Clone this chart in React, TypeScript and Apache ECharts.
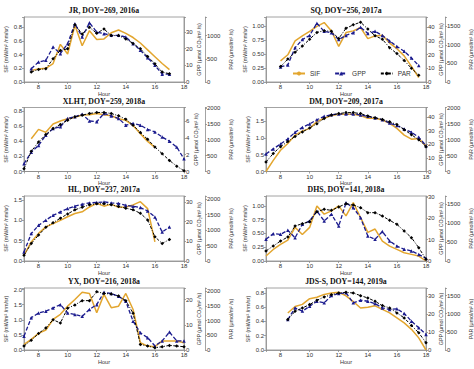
import React, { useEffect, useRef } from 'react';
import * as echarts from 'echarts';

// ---------- hour lists ----------
const H_7_18 = [7, 7.5, 8, 8.5, 9, 9.5, 10, 10.5, 11, 11.5, 12, 12.5, 13, 13.5, 14, 14.5, 15, 15.5, 16, 16.5, 17, 17.5, 18];
const H_75_17 = [7.5, 8, 8.5, 9, 9.5, 10, 10.5, 11, 11.5, 12, 12.5, 13, 13.5, 14, 14.5, 15, 15.5, 16, 16.5, 17];
const H_8_175 = [8, 8.5, 9, 9.5, 10, 10.5, 11, 11.5, 12, 12.5, 13, 13.5, 14, 14.5, 15, 15.5, 16, 16.5, 17, 17.5];
const H_75_16 = [7.5, 8, 8.5, 9, 9.5, 10, 10.5, 11, 11.5, 12, 12.5, 13, 13.5, 14, 14.5, 15, 15.5, 16];
const H_7_16 = [7, 7.5, 8, 8.5, 9, 9.5, 10, 10.5, 11, 11.5, 12, 12.5, 13, 13.5, 14, 14.5, 15, 15.5, 16];
const H_7_17 = [7, 7.5, 8, 8.5, 9, 9.5, 10, 10.5, 11, 11.5, 12, 12.5, 13, 13.5, 14, 14.5, 15, 15.5, 16, 16.5, 17];
const H_85_18 = [8.5, 9, 9.5, 10, 10.5, 11, 11.5, 12, 12.5, 13, 13.5, 14, 14.5, 15, 15.5, 16, 16.5, 17, 17.5, 18];

// ---------- titles ----------
const TITLES = [
  'JR, DOY=269, 2016a', 'SQ, DOY=256, 2017a',
  'XLHT, DOY=259, 2018a', 'DM, DOY=209, 2017a',
  'HL, DOY=237, 2017a', 'DHS, DOY=141, 2018a',
  'YX, DOY=216, 2018a', 'JDS-S, DOY=144, 2019a',
];

// ---------- series values ----------
const jrSIF = [0.17, 0.19, 0.2, 0.27, 0.55, 0.41, 0.83, 0.53, 0.75, 0.62, 0.63, 0.72, 0.76, 0.71, 0.65, 0.57, 0.47, 0.37, 0.27, 0.18];
const jrGPP = [8, 12, 13, 21, 17, 23, 35, 27, 35.5, 30, 29, 28, 28, 27, 23, 19, 14.5, 10, 4.7, 4.7];
const jrPAR = [214, 271, 285, 500, 680, 714, 1235, 1035, 1178, 1050, 1142, 1000, 1000, 928, 830, 714, 550, 393, 214, 178];

const sqSIF = [0.38, 0.49, 0.74, 0.83, 0.91, 1.0, 1.07, 0.92, 0.64, 0.89, 0.92, 0.98, 0.78, 0.83, 0.84, 0.7, 0.6, 0.47, 0.28, 0.08];
const sqGPP = [11, 12.5, 25, 31, 34, 43, 37, 36, 31, 34, 36, 40, 35.5, 37, 34, 30, 26, 22.5, 17.5, 12];
const sqPAR = [414, 617, 801, 967, 1151, 1335, 1381, 1363, 1170, 1446, 1538, 1611, 1427, 1243, 1151, 921, 764, 580, 368, 184];

const xlSIF = [0.435, 0.56, 0.52, 0.63, 0.67, 0.7, 0.72, 0.75, 0.755, 0.77, 0.755, 0.74, 0.7, 0.68, 0.61, 0.5, 0.4, 0.32];
const xlGPP = [0.92, 2.3, 3.1, 4.3, 5.1, 5.3, 6.3, 6.5, 6.8, 6.0, 5.9, 6.9, 6.6, 6.3, 5.5, 5.7, 5.5, 5.0, 4.7, 4.1, 3.6, 2.9, 1.5];
const xlPAR = [85, 640, 936, 1170, 1362, 1490, 1628, 1734, 1787, 1840, 1872, 1872, 1840, 1766, 1660, 1468, 1234, 1021, 777, 564, 351, 170, 21];

const dmSIF = [0.0, 0.33, 0.63, 0.83, 1.08, 1.2, 1.28, 1.48, 1.58, 1.66, 1.7, 1.7, 1.7, 1.66, 1.58, 1.58, 1.53, 1.43, 1.28, 1.08, 0.96, 0.98, 0.76];
const dmGPP = [12.9, 16.6, 20.2, 23.9, 28.8, 32.4, 34.9, 38, 40.5, 41.7, 42.2, 42.2, 42.2, 41.5, 40.5, 39.3, 38, 35.6, 33.7, 31.2, 28.8, 25.1, 19];
const dmPAR = [298, 564, 777, 936, 1096, 1234, 1362, 1490, 1660, 1766, 1809, 1840, 1840, 1809, 1734, 1681, 1628, 1553, 1468, 1308, 1149, 989, 777];

const hlSIF = [0.14, 0.47, 0.68, 0.84, 0.92, 1.0, 1.09, 1.17, 1.21, 1.33, 1.42, 1.35, 1.4, 1.32, 1.33, 1.38, 1.46, 1.29, 0.47];
const hlGPP = [4.6, 13.9, 18.1, 20.7, 23.2, 24.9, 26.6, 27.8, 28.8, 29.5, 29.7, 30, 29.5, 29.2, 28.3, 27.8, 27.1, 25.4, 22.4, 14.7, 17.3];
const hlPAR = [185, 565, 837, 1087, 1239, 1380, 1522, 1652, 1739, 1815, 1848, 1848, 1815, 1761, 1707, 1652, 1543, 1326, 783, 565, 696];

const dhSIF = [0.09, 0.21, 0.3, 0.38, 0.61, 0.48, 0.61, 1.0, 0.85, 0.91, 1.0, 0.82, 1.06, 0.79, 0.52, 0.58, 0.36, 0.27, 0.21, 0.15, 0.12, 0.09, 0.0];
const dhGPP = [10.2, 12.8, 12.5, 14.4, 10.9, 17.2, 18.8, 23.4, 18.8, 21.9, 16.4, 27.3, 25, 20.3, 11.7, 10.2, 13.8, 9.4, 7, 5.5, 4.7, 3.1, 1.2];
const dhPAR = [265, 397, 529, 635, 926, 988, 1041, 1305, 1367, 1341, 1429, 1517, 1482, 1411, 1279, 1279, 1191, 1076, 970, 794, 617, 353, 44];

const yxSIF = [0.19, 0.35, 0.55, 0.66, 1.01, 1.18, 1.45, 1.67, 1.91, 1.87, 1.23, 1.84, 1.4, 1.45, 1.87, 1.34, 0.24, 0.13, 0.11, 0.3, 0.3, 0.3, 0.24];
const yxGPP = [5.5, 12.8, 14.7, 15.4, 16.7, 18, 14.7, 14.1, 13.4, 16.1, 18, 22.9, 22.4, 21.3, 19.3, 11.4, 6.8, 4.9, 1.6, 3.6, 7.1, 3.6, 3.6];
const yxPAR = [134, 336, 560, 750, 1030, 918, 1422, 1534, 1680, 1680, 1982, 1926, 1904, 1837, 1680, 1254, 190, 134, 78, 112, 157, 134, 112];

const jdSIF = [0.52, 0.61, 0.64, 0.72, 0.74, 0.78, 0.8, 0.81, 0.76, 0.68, 0.59, 0.6, 0.62, 0.57, 0.52, 0.45, 0.38, 0.29, 0.17, 0.0];
const jdGPP = [17, 23.5, 21.7, 24.4, 27.2, 26.3, 30.4, 31.5, 31.9, 26.3, 27.8, 27.2, 25.9, 23.5, 22.6, 23, 20.4, 16.1, 12.4, 8.7];
const jdPAR = [840, 1069, 1160, 1252, 1371, 1462, 1526, 1572, 1590, 1572, 1499, 1435, 1343, 1225, 1160, 1023, 886, 676, 475, 201];

// ---------- axis ranges: [max, interval, decimals] ----------
const SIF_AX = [[0.95, 0.2, 1], [1.17, 0.25, 2], [0.85, 0.2, 1], [1.9, 0.5, 1], [1.6, 0.5, 1], [1.18, 0.25, 2], [2.05, 0.5, 1], [0.87, 0.2, 1]];
const GPP_AX = [[39, 10], [47.5, 10], [7.6, 2], [47, 10], [33, 10], [30.5, 10], [24.6, 10], [34.6, 10]];
const PAR_AX = [[1400, 500], [1750, 500], [2030, 500], [2000, 500], [2100, 500], [1720, 500], [2110, 500], [1710, 500]];

const PANELS = [
  { sifH: H_75_17, sif: jrSIF, gppH: H_75_17, gpp: jrGPP, parH: H_75_17, par: jrPAR },
  { sifH: H_8_175, sif: sqSIF, gppH: H_8_175, gpp: sqGPP, parH: H_8_175, par: sqPAR },
  { sifH: H_75_16, sif: xlSIF, gppH: H_7_18, gpp: xlGPP, parH: H_7_18, par: xlPAR },
  { sifH: H_7_18, sif: dmSIF, gppH: H_7_18, gpp: dmGPP, parH: H_7_18, par: dmPAR },
  { sifH: H_7_16, sif: hlSIF, gppH: H_7_17, gpp: hlGPP, parH: H_7_17, par: hlPAR },
  { sifH: H_7_18, sif: dhSIF, gppH: H_7_18, gpp: dhGPP, parH: H_7_18, par: dhPAR },
  { sifH: H_7_18, sif: yxSIF, gppH: H_7_18, gpp: yxGPP, parH: H_7_18, par: yxPAR },
  { sifH: H_85_18, sif: jdSIF, gppH: H_85_18, gpp: jdGPP, parH: H_85_18, par: jdPAR },
];

// ---------- layout & style ----------
const COL_LEFT = [24, 266];
const PLOT_W = 160;
const ROW_TOP = [17, 107.5, 196, 288];
const ROW_H = [65, 64, 65, 62];
const PAR_OFFSET = [21, 19];
const ORANGE = '#E3A62F';
const BLUE = '#1B1B8E';
const GRAY = '#8c8c8c';
const TXT = '#333';
const SANS = 'Liberation Sans, Arial, sans-serif';
const SERIF = 'Liberation Serif, Times New Roman, serif';

const zip = (h: number[], v: number[]) => h.map((x, k) => [x, v[k]]);
const isMult = (v: number, iv: number) => Math.abs(v / iv - Math.round(v / iv)) < 1e-6;

function buildOption() {
  const grid: any[] = [];
  const xAxis: any[] = [];
  const yAxis: any[] = [];
  const series: any[] = [];
  const graphic: any[] = [];
  const lineStyle = { color: GRAY, width: 0.8 };
  const label = (extra: any) => ({ fontSize: 6, color: TXT, fontFamily: SANS, margin: 2, ...extra });
  const nameStyle = { fontSize: 5.3, color: TXT, fontFamily: SANS };

  PANELS.forEach((p, i) => {
    const col = i % 2;
    const row = Math.floor(i / 2);
    const left = COL_LEFT[col];
    const top = ROW_TOP[row];
    const height = ROW_H[row];
    grid.push({ left, top, width: PLOT_W, height, show: true, borderColor: GRAY, borderWidth: 0.8, backgroundColor: 'transparent' });

    graphic.push({
      type: 'text', x: left + PLOT_W / 2, y: top - 6.5,
      style: { text: TITLES[i], textAlign: 'center', textVerticalAlign: 'middle', font: `bold 7.8px ${SERIF}`, fill: '#111' },
    });

    xAxis.push({
      type: 'value', gridIndex: i, min: 7, max: 18, minInterval: 2, maxInterval: 2,
      name: 'Hour', nameLocation: 'middle', nameGap: 7.5, nameTextStyle: { fontSize: 5.6, color: TXT, fontFamily: SANS },
      axisLine: { show: true, lineStyle }, axisTick: { show: true, length: 2, lineStyle },
      axisLabel: label({ formatter: (v: number) => (isMult(v, 2) ? String(v) : '') }),
      splitLine: { show: false },
    });

    const [sMax, sIv, sDec] = SIF_AX[i];
    yAxis.push({
      type: 'value', gridIndex: i, position: 'left', min: 0, max: sMax, interval: sIv,
      name: 'SIF (mW/m² /nm/sr)', nameLocation: 'middle', nameRotate: 90, nameGap: sDec === 2 ? 19 : 16,
      nameTextStyle: nameStyle,
      axisLine: { show: true, lineStyle }, axisTick: { show: true, length: 2, lineStyle },
      axisLabel: label({ formatter: (v: number) => (isMult(v, sIv) ? v.toFixed(sDec) : '') }),
      splitLine: { show: false },
    });
    const [gMax, gIv] = GPP_AX[i];
    yAxis.push({
      type: 'value', gridIndex: i, position: 'right', min: 0, max: gMax, interval: gIv,
      name: 'GPP (μmol CO₂/m² /s)', nameLocation: 'middle', nameRotate: 90, nameGap: gMax < 10 ? 8 : 12,
      nameTextStyle: nameStyle,
      axisLine: { show: true, lineStyle }, axisTick: { show: true, length: 2, lineStyle },
      axisLabel: label({ formatter: (v: number) => (isMult(v, gIv) ? String(v) : '') }),
      splitLine: { show: false },
    });
    const [pMax, pIv] = PAR_AX[i];
    yAxis.push({
      type: 'value', gridIndex: i, position: 'right', offset: PAR_OFFSET[col], min: 0, max: pMax, interval: pIv,
      name: 'PAR (μmol/m² /s)', nameLocation: 'middle', nameRotate: 90, nameGap: 23,
      nameTextStyle: nameStyle,
      axisLine: { show: true, lineStyle }, axisTick: { show: true, length: 2, lineStyle },
      axisLabel: label({ formatter: (v: number) => (isMult(v, pIv) ? String(v) : '') }),
      splitLine: { show: false },
    });

    series.push({
      type: 'line', name: 'SIF', xAxisIndex: i, yAxisIndex: 3 * i, data: zip(p.sifH, p.sif),
      symbol: 'none', lineStyle: { color: ORANGE, width: 1.5 }, itemStyle: { color: ORANGE }, z: 3,
    });
    series.push({
      type: 'line', name: 'GPP', xAxisIndex: i, yAxisIndex: 3 * i + 1, data: zip(p.gppH, p.gpp),
      symbol: 'triangle', symbolSize: 3.5, lineStyle: { color: BLUE, width: 1.3, type: [4, 2] },
      itemStyle: { color: BLUE }, z: 4,
    });
    series.push({
      type: 'line', name: 'PAR', xAxisIndex: i, yAxisIndex: 3 * i + 2, data: zip(p.parH, p.par),
      symbol: 'diamond', symbolSize: 3.5, lineStyle: { color: '#000', width: 1, type: [3, 1.5, 1, 1.5] },
      itemStyle: { color: '#000' }, z: 5,
    });
  });

  return {
    animation: false,
    backgroundColor: '#fff',
    grid, xAxis, yAxis, series, graphic,
    legend: {
      data: ['SIF', 'GPP', 'PAR'], left: 292, top: 70, padding: 0,
      itemWidth: 12, itemHeight: 5, itemGap: 14,
      textStyle: { fontSize: 6.5, color: TXT, fontFamily: SANS },
    },
  };
}

export default function App() {
  const ref = useRef<HTMLDivElement>(null);
  useEffect(() => {
    const chart = echarts.init(ref.current!, null, { renderer: 'svg' });
    chart.setOption(buildOption());
    return () => chart.dispose();
  }, []);
  return (
    <div
      ref={ref}
      style={{ position: 'fixed', left: 0, top: 0, width: 474, height: 369, background: '#fff' }}
    />
  );
}
